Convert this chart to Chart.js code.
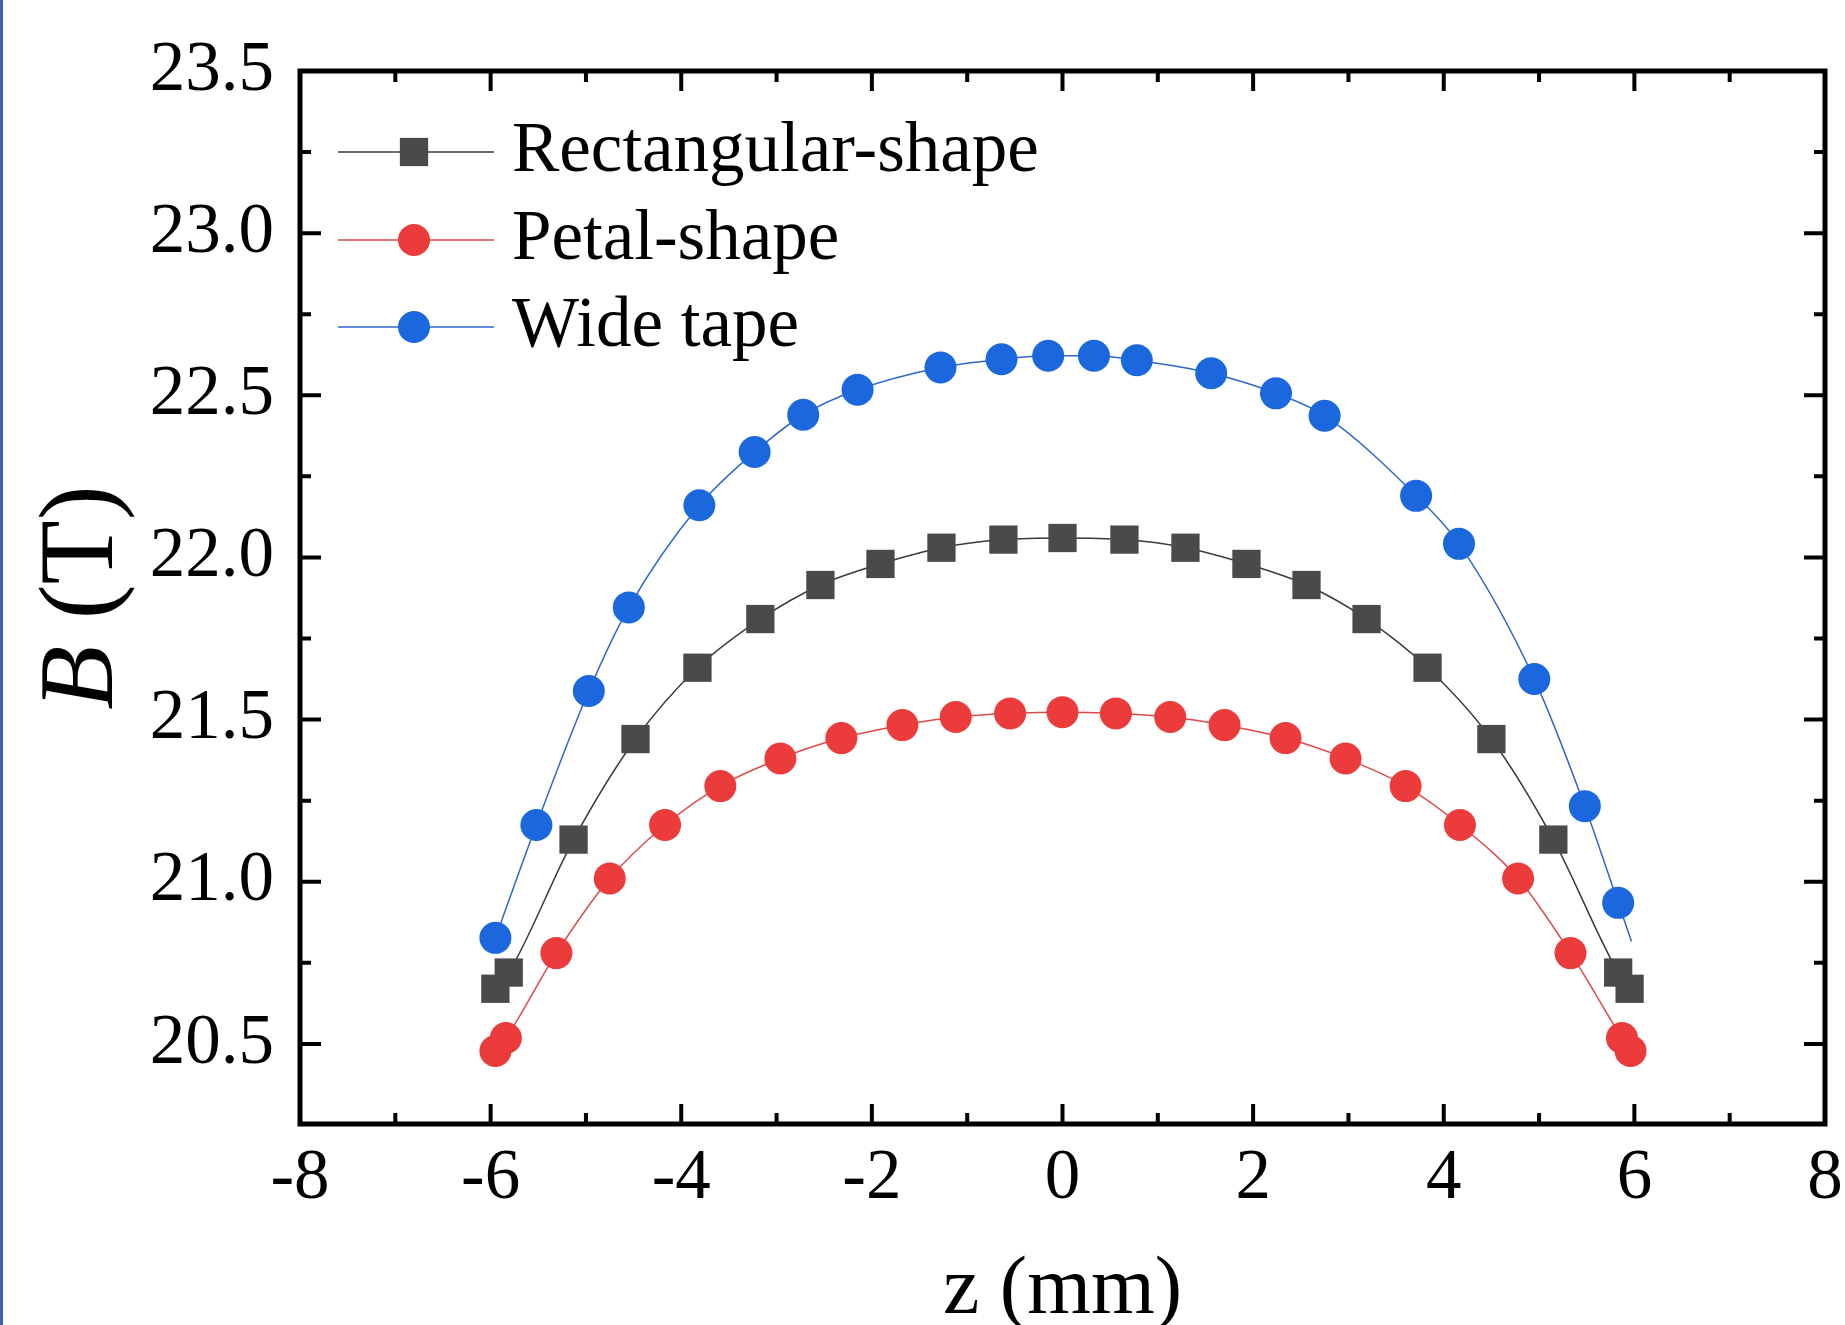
<!DOCTYPE html>
<html>
<head>
<meta charset="utf-8">
<script src="https://cdn.jsdelivr.net/npm/chart.js@4.4.0/dist/chart.umd.min.js"></script>
<style>
  html, body { margin: 0; padding: 0; background: #fff; }
  #wrap { position: relative; width: 1845px; height: 1325px; }
  #edge { position: absolute; left: 0; top: 0; width: 3px; height: 1325px; background: #3d62a6; }
</style>
</head>
<body>
<div id="wrap">
  <canvas id="chart" width="1845" height="1325"></canvas>
  <div id="edge"></div>
</div>
<script>
const serif = "'Times New Roman', 'Liberation Serif', serif";

// z (mm) / B (T)
const zRect = [-5.95, -5.81, -5.13, -4.48, -3.83, -3.17, -2.54, -1.91, -1.27, -0.62, 0, 0.65, 1.29, 1.93, 2.56, 3.19, 3.83, 4.5, 5.15, 5.83, 5.95];
const bRect = [20.67, 20.72, 21.13, 21.44, 21.66, 21.81, 21.915, 21.98, 22.03, 22.055, 22.06, 22.055, 22.03, 21.98, 21.915, 21.81, 21.66, 21.44, 21.13, 20.72, 20.67];

const zPetal = [-5.95, -5.84, -5.31, -4.75, -4.17, -3.59, -2.96, -2.32, -1.68, -1.12, -0.55, 0, 0.56, 1.13, 1.7, 2.34, 2.97, 3.6, 4.17, 4.78, 5.33, 5.87, 5.96];
const bPetal = [20.478, 20.518, 20.78, 21.01, 21.175, 21.295, 21.38, 21.443, 21.483, 21.508, 21.519, 21.523, 21.519, 21.508, 21.483, 21.443, 21.38, 21.295, 21.175, 21.01, 20.78, 20.518, 20.478];

// last wide-tape point is where the fitted line ends, no marker there
const zWide = [-5.95, -5.52, -4.97, -4.55, -3.81, -3.23, -2.72, -2.15, -1.28, -0.64, -0.15, 0.33, 0.78, 1.56, 2.24, 2.75, 3.71, 4.16, 4.95, 5.48, 5.83, 5.97];
const bWide = [20.827, 21.175, 21.588, 21.846, 22.161, 22.325, 22.44, 22.517, 22.586, 22.611, 22.622, 22.622, 22.608, 22.568, 22.506, 22.437, 22.19, 22.042, 21.625, 21.233, 20.935, 20.816];

const seriesNames = ['Rectangular-shape', 'Petal-shape', 'Wide tape'];

const xTicks = [-8, -6, -4, -2, 0, 2, 4, 6, 8];
const xMinor = [-7, -5, -3, -1, 1, 3, 5, 7];
const yTicks = [20.5, 21.0, 21.5, 22.0, 22.5, 23.0, 23.5];
const yMinor = [20.75, 21.25, 21.75, 22.25, 22.75, 23.25];

const pts = (xs, ys) => xs.map((v, i) => ({ x: v, y: ys[i] }));

// inward ticks on all four sides + box
const frame = {
  id: 'frame',
  afterDraw(chart) {
    const { ctx, chartArea: a, scales: { x, y } } = chart;
    ctx.save();
    ctx.strokeStyle = '#000';
    ctx.lineWidth = 4;
    ctx.beginPath();
    const xt = (v, len) => {
      const p = x.getPixelForValue(v);
      ctx.moveTo(p, a.bottom); ctx.lineTo(p, a.bottom - len);
      ctx.moveTo(p, a.top); ctx.lineTo(p, a.top + len);
    };
    const yt = (v, len) => {
      const p = y.getPixelForValue(v);
      ctx.moveTo(a.left, p); ctx.lineTo(a.left + len, p);
      ctx.moveTo(a.right, p); ctx.lineTo(a.right - len, p);
    };
    xTicks.forEach(v => xt(v, 20));
    xMinor.forEach(v => xt(v, 11));
    yTicks.forEach(v => yt(v, 21));
    yMinor.forEach(v => yt(v, 11));
    ctx.stroke();
    ctx.lineWidth = 5;
    ctx.strokeRect(a.left, a.top, a.right - a.left, a.bottom - a.top);
    ctx.restore();
  }
};

// legend sits inside the plot, top-left
const legendBox = {
  id: 'legendBox',
  afterDraw(chart) {
    const { ctx, chartArea: a } = chart;
    const rows = [81, 169, 256];
    ctx.save();
    chart.data.datasets.forEach((ds, i) => {
      const yy = a.top + rows[i];
      ctx.strokeStyle = ds.borderColor;
      ctx.lineWidth = 1.5;
      ctx.beginPath();
      ctx.moveTo(a.left + 38, yy);
      ctx.lineTo(a.left + 194, yy);
      ctx.stroke();
      ctx.fillStyle = ds.pointBackgroundColor;
      ctx.strokeStyle = ds.pointBackgroundColor;
      Chart.helpers.drawPoint(ctx, { pointStyle: ds.pointStyle, radius: ds.pointStyle === 'rect' ? 20 : 16, rotation: 0, borderWidth: 0 }, a.left + 114, yy);
      ctx.fillStyle = '#000';
      ctx.font = '71px ' + serif;
      ctx.textBaseline = 'middle';
      ctx.textAlign = 'left';
      ctx.fillText(ds.label, a.left + 212, yy);
    });
    ctx.restore();
  }
};

// y title with italic B
const yTitle = {
  id: 'yTitle',
  afterDraw(chart) {
    const { ctx, chartArea: a } = chart;
    ctx.save();
    ctx.translate(112, (a.top + a.bottom) / 2);
    ctx.rotate(-Math.PI / 2);
    ctx.fillStyle = '#000';
    ctx.textBaseline = 'alphabetic';
    ctx.textAlign = 'left';
    ctx.font = 'italic 105px ' + serif;
    const wB = ctx.measureText('B').width;
    ctx.font = '105px ' + serif;
    const wR = ctx.measureText(' (T)').width;
    const x0 = -(wB + wR) / 2;
    ctx.font = 'italic 105px ' + serif;
    ctx.fillText('B', x0, 0);
    ctx.font = '105px ' + serif;
    ctx.fillText(' (T)', x0 + wB, 0);
    ctx.restore();
  }
};

const grey = '#4a4a4a', red = '#ec3b3b', blue = '#1b68de';

new Chart(document.getElementById('chart'), {
  type: 'line',
  data: {
    datasets: [
      {
        label: seriesNames[0],
        data: pts(zRect, bRect),
        borderColor: '#3a3a3a',
        borderWidth: 1.5,
        pointStyle: 'rect',
        pointRadius: 20,
        pointBackgroundColor: grey,
        pointBorderColor: grey,
        pointBorderWidth: 0,
        cubicInterpolationMode: 'monotone'
      },
      {
        label: seriesNames[1],
        data: pts(zPetal, bPetal),
        borderColor: '#e04848',
        borderWidth: 1.5,
        pointStyle: 'circle',
        pointRadius: 16,
        pointBackgroundColor: red,
        pointBorderColor: red,
        pointBorderWidth: 0,
        cubicInterpolationMode: 'monotone'
      },
      {
        label: seriesNames[2],
        data: pts(zWide, bWide),
        borderColor: '#2d66cc',
        borderWidth: 1.5,
        pointStyle: 'circle',
        pointRadius: zWide.map((v, i) => (i === zWide.length - 1 ? 0 : 16)),
        pointBackgroundColor: blue,
        pointBorderColor: blue,
        pointBorderWidth: 0,
        cubicInterpolationMode: 'monotone'
      }
    ]
  },
  options: {
    responsive: false,
    animation: false,
    devicePixelRatio: 1,
    layout: { padding: { top: 71, right: 20, left: 0, bottom: 0 } },
    plugins: {
      legend: { display: false },
      tooltip: { enabled: false }
    },
    scales: {
      x: {
        type: 'linear',
        min: -8,
        max: 8,
        afterFit: s => { s.height = 201; s.paddingLeft = 0; s.paddingRight = 0; },
        afterBuildTicks: s => { s.ticks = xTicks.map(v => ({ value: v })); },
        grid: { display: false, drawTicks: false },
        border: { display: false },
        ticks: {
          padding: 13,
          color: '#000',
          autoSkip: false,
          maxRotation: 0,
          font: { family: serif, size: 71 },
          callback: v => String(v)
        },
        title: {
          display: true,
          text: 'z (mm)',
          color: '#000',
          font: { family: serif, size: 82, lineHeight: 0.82 },
          padding: 0
        }
      },
      y: {
        type: 'linear',
        min: 20.253,
        max: 23.5,
        afterFit: s => { s.width = 300; },
        afterBuildTicks: s => { s.ticks = yTicks.map(v => ({ value: v })); },
        grid: { display: false, drawTicks: false },
        border: { display: false },
        ticks: {
          padding: 26,
          color: '#000',
          font: { family: serif, size: 71 },
          callback: v => v.toFixed(1)
        }
      }
    }
  },
  plugins: [frame, legendBox, yTitle]
});
</script>
</body>
</html>
